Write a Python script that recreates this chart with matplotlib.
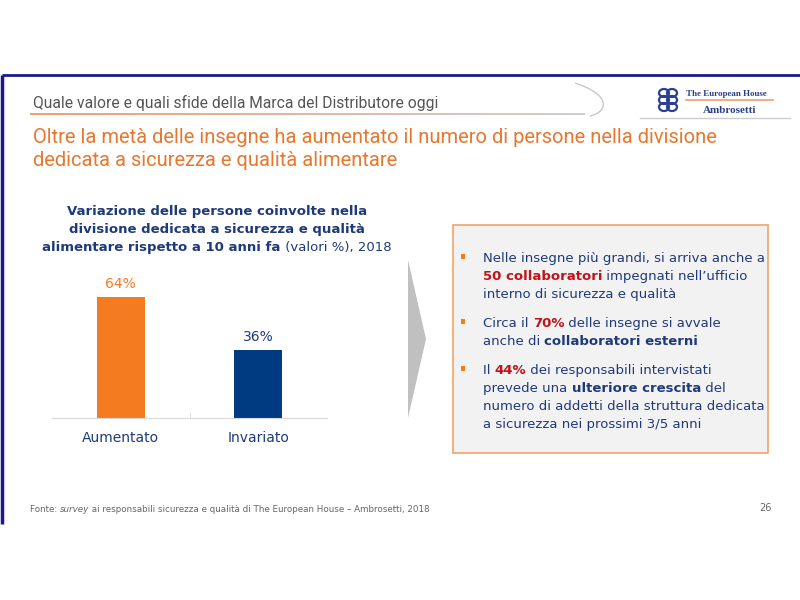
import matplotlib
matplotlib.use("Agg")
import matplotlib.pyplot as plt
from matplotlib.patches import Rectangle, Polygon, PathPatch, Ellipse
from matplotlib.path import Path
import numpy as np

# ---------------- data ----------------
categories = ["Aumentato", "Invariato"]
values = [64, 36]
value_labels = ["64%", "36%"]
bar_colors = ["#F47B20", "#003A80"]
label_colors = ["#F47B20", "#1F3A7A"]

header = "Quale valore e quali sfide della Marca del Distributore oggi"
title_lines = ["Oltre la metà delle insegne ha aumentato il numero di persone nella divisione",
               "dedicata a sicurezza e qualità alimentare"]
chart_title_lines = [
    [("Variazione delle persone coinvolte nella", "b")],
    [("divisione dedicata a sicurezza e qualità", "b")],
    [("alimentare rispetto a 10 anni fa", "b"), (" (valori %), 2018", "n")],
]
box_paragraphs = [
    [[("Nelle insegne più grandi, si arriva anche a", "n")],
     [("50 collaboratori", "r"), (" impegnati nell’ufficio", "n")],
     [("interno di sicurezza e qualità", "n")]],
    [[("Circa il ", "n"), ("70%", "r"), (" delle insegne si avvale", "n")],
     [("anche di ", "n"), ("collaboratori esterni", "b")]],
    [[("Il ", "n"), ("44%", "r"), (" dei responsabili intervistati", "n")],
     [("prevede una ", "n"), ("ulteriore crescita", "b"), (" del", "n")],
     [("numero di addetti della struttura dedicata", "n")],
     [("a sicurezza nei prossimi 3/5 anni", "n")]],
]
footer_runs = [("Fonte: ", "n"), ("survey", "i"), (" ai responsabili sicurezza e qualità di The European House – Ambrosetti, 2018", "n")]
page_number = "26"

NAVY = "#1F3A7A"
ORANGE = "#E8772E"
RED = "#C0141C"
TEXTBLUE = "#1F3A7A"

plt.rcParams['font.family'] = ['DejaVu Sans']

fig = plt.figure(figsize=(8, 6), dpi=100)
fig.patch.set_facecolor("white")

# overlay axes in pixel coordinates
ov = fig.add_axes([0, 0, 1, 1], zorder=0)
ov.set_xlim(0, 800)
ov.set_ylim(600, 0)
ov.axis("off")

renderer = fig.canvas.get_renderer()


def text_width(s, **kw):
    t = ov.text(0, 0, s + "|", **kw)
    w1 = t.get_window_extent(renderer).width
    t.remove()
    t = ov.text(0, 0, "|", **kw)
    w2 = t.get_window_extent(renderer).width
    t.remove()
    return w1 - w2


def fit_size(s, target, base=12, **kw):
    w = text_width(s, fontsize=base, **kw)
    return base * target / w


def rich_line(x, y, runs, styles, align="left"):
    widths = [text_width(s, **styles[st]) for s, st in runs]
    total = sum(widths)
    if align == "center":
        x = x - total / 2
    for (s, st), w in zip(runs, widths):
        ov.text(x, y, s, va="baseline", ha="left", **styles[st])
        x += w


# frame
ov.plot([2, 800], [75, 75], color="#1A1A8C", lw=2, solid_capstyle="butt")
ov.plot([2, 2], [75, 524], color="#1A1A8C", lw=2.5, solid_capstyle="butt")

# header text and line
NARROW = ["Roboto", "DejaVu Sans"]
hs = fit_size(header, 402, family=NARROW)
ov.text(33, 108, header, fontsize=hs, color="#555555", family=NARROW, va="baseline")
xs = np.linspace(30, 585, 200)
for i in range(len(xs) - 1):
    f = i / (len(xs) - 1)
    c = np.array([0.93, 0.55, 0.35]) * (1 - f) + np.array([0.78, 0.78, 0.78]) * f
    ov.plot(xs[i:i + 2], [114, 114], color=c, lw=1.2, solid_capstyle="butt")
swoosh = Path([(575, 83), (612, 95), (608, 112), (590, 116)],
              [Path.MOVETO, Path.CURVE4, Path.CURVE4, Path.CURVE4])
ov.add_patch(PathPatch(swoosh, fill=False, ec="#C8C8C8", lw=1.0))
ov.plot([640, 790], [118, 118], color="#CCCCCC", lw=1.0)

# logo
for dy in (-7, 0, 7):
    ov.add_patch(Ellipse((664, 100 + dy), 10, 8, fill=False, ec="#2A3F8F", lw=1.6))
    ov.add_patch(Ellipse((672, 100 + dy), 10, 8, fill=False, ec="#2A3F8F", lw=1.6))
ov.text(686, 96, "The European House", fontsize=6.5, family=["Liberation Serif"], color="#2A3F8F",
        fontweight="bold", va="baseline")
ov.plot([686, 773], [100, 100], color="#F0A070", lw=1.2)
ov.text(730, 113, "Ambrosetti", fontsize=8, family=["Liberation Serif"], color="#2A3F8F",
        fontweight="bold", va="baseline", ha="center")

# main title
ts = fit_size(title_lines[0], 685, family=NARROW)
for i, line in enumerate(title_lines):
    ov.text(33, 143 + i * 23, line, fontsize=ts, color=ORANGE, family=NARROW, va="baseline")

# chart title
ct_styles = {"b": dict(fontsize=9.5, fontweight="bold", color=NAVY),
             "n": dict(fontsize=9.5, color=NAVY)}
for i, runs in enumerate(chart_title_lines):
    rich_line(217, 215 + i * 18, runs, ct_styles, align="center")

# bar chart axes
ax_left, ax_right = 52 / 800, 327 / 800
ax_bottom = 1 - 418 / 600
ax_h = 189 / 600
ax = fig.add_axes([ax_left, ax_bottom, ax_right - ax_left, ax_h], zorder=2)
ax.patch.set_alpha(0)
x = np.arange(len(categories))
ax.bar(x, values, width=0.35, color=bar_colors)
ax.set_xlim(-0.5, len(categories) - 0.5)
ax.set_ylim(0, 100)
for xi, v, lab, col in zip(x, values, value_labels, label_colors):
    ax.text(xi, v + 3, lab, ha="center", va="bottom", fontsize=10, color=col)
ax.set_xticks(x)
ax.set_xticklabels(categories, fontsize=10, color=NAVY)
ax.set_xticks([0.5], minor=True)
ax.tick_params(axis="x", which="major", length=0, pad=9)
ax.tick_params(axis="x", which="minor", length=4, color="#D9D9D9", direction="in")
ax.set_yticks([])
for s in ["top", "right", "left"]:
    ax.spines[s].set_visible(False)
ax.spines["bottom"].set_color("#D9D9D9")

# arrow shape
ov.add_patch(Polygon([(408, 260), (426, 339), (408, 418)], closed=True, fc="#C0C0C0", ec="none"))

# text box
ov.add_patch(Rectangle((453, 225), 315, 228, fc="#F2F2F2", ec="#F0A468", lw=1.2))
bs = 9.5
box_styles = {"n": dict(fontsize=bs, color=TEXTBLUE),
              "b": dict(fontsize=bs, color=TEXTBLUE, fontweight="bold"),
              "r": dict(fontsize=bs, color=RED, fontweight="bold")}
y = 262
for para in box_paragraphs:
    ov.add_patch(Rectangle((461, y - 8), 4, 5, fc="#F47B20", ec="none"))
    for runs in para:
        rich_line(483, y, runs, box_styles)
        y += 18
    y += 11

# footer
ft_styles = {"n": dict(fontsize=6.3, color="#666666"),
             "i": dict(fontsize=6.3, color="#666666", style="italic")}
rich_line(30, 512, footer_runs, ft_styles)
ov.text(759, 511, page_number, fontsize=7, color="#666666", va="baseline")

fig.savefig("out.png", dpi=100, facecolor="white")
